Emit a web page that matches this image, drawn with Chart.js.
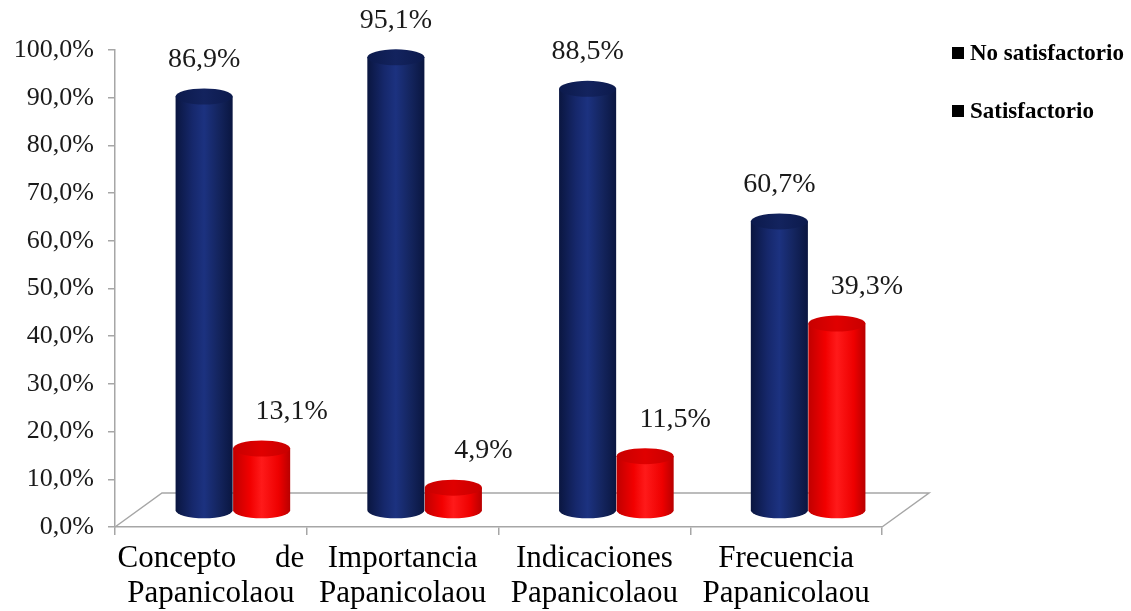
<!DOCTYPE html>
<html>
<head>
<meta charset="utf-8">
<script src="https://cdn.jsdelivr.net/npm/chart.js@4"></script>
<style>
  body { margin: 0; background: #fff; }
  #wrap { position: relative; width: 1131px; height: 611px; }
  .legend {
    position: absolute; left: 952px;
    font: bold 23px "Liberation Serif", "Times New Roman", serif; color: #000;
  }
  .legend span {
    display: inline-block; width: 12px; height: 12px; background: #000;
    margin-right: 6px; vertical-align: 1px;
  }
</style>
</head>
<body>
<div id="wrap">
  <canvas id="chart" width="1131" height="611"></canvas>
  <div class="legend" style="top:40px"><span></span>No satisfactorio</div>
  <div class="legend" style="top:98px"><span></span>Satisfactorio</div>
</div>
<script>
const categories = [
  ['Concepto     de', 'Papanicolaou'],
  ['Importancia', 'Papanicolaou'],
  ['Indicaciones', 'Papanicolaou'],
  ['Frecuencia', 'Papanicolaou'],
];
const noSatisfactorio = [86.9, 95.1, 88.5, 60.7];
const satisfactorio = [13.1, 4.9, 11.5, 39.3];
const yTicks = [0, 10, 20, 30, 40, 50, 60, 70, 80, 90, 100];

const SERIF = '"Liberation Serif", "Times New Roman", serif';
const DEPTH_X = 47, DEPTH_Y = -34;   // floor depth
const SHIFT_X = 22, SHIFT_Y = -16;   // bars stand mid-depth
const LABEL_DX = [0, 30];            // red labels sit right of their bar

const fmt = v => v.toFixed(1).replace('.', ',') + '%';

function cylinderGradient(ctx, x0, x1, stops) {
  const g = ctx.createLinearGradient(x0, 0, x1, 0);
  stops.forEach(([p, c]) => g.addColorStop(p, c));
  return g;
}

const palettes = [
  {
    body: [[0, '#0a1640'], [0.3, '#16286c'], [0.5, '#1c3280'], [0.75, '#14255f'], [1, '#0a1640']],
    top: [[0, '#0c1a4c'], [0.5, '#13235e'], [1, '#0c1a4c']],
  },
  {
    body: [[0, '#c00000'], [0.3, '#f20000'], [0.5, '#ff1a1a'], [0.8, '#ee0000'], [1, '#b80000']],
    top: [[0, '#c80000'], [0.5, '#e00000'], [1, '#c80000']],
  },
];

const floorPlugin = {
  id: 'floor',
  beforeDatasetsDraw(chart) {
    const { ctx, chartArea: a } = chart;
    ctx.save();
    ctx.strokeStyle = '#a6a6a6';
    ctx.lineWidth = 1.5;
    ctx.beginPath();
    ctx.moveTo(a.left, a.bottom);
    ctx.lineTo(a.left + DEPTH_X, a.bottom + DEPTH_Y);
    ctx.lineTo(a.right + DEPTH_X, a.bottom + DEPTH_Y);
    ctx.lineTo(a.right, a.bottom);
    ctx.stroke();
    ctx.restore();
  },
};

const cylinderPlugin = {
  id: 'cylinders',
  afterDatasetsDraw(chart) {
    const { ctx } = chart;
    const labels = [];
    ctx.save();
    chart.data.labels.forEach((_, i) => {
      chart.data.datasets.forEach((ds, d) => {
        const bar = chart.getDatasetMeta(d).data[i];
        const w = bar.width + 3;
        const cx = bar.x + SHIFT_X;
        const top = bar.y + SHIFT_Y;
        const bottom = bar.base + SHIFT_Y;
        const rx = w / 2, ry = 8;
        const pal = palettes[d];

        ctx.fillStyle = cylinderGradient(ctx, cx - rx, cx + rx, pal.body);
        ctx.beginPath();
        ctx.moveTo(cx - rx, top);
        ctx.lineTo(cx - rx, bottom);
        ctx.ellipse(cx, bottom, rx, ry, 0, Math.PI, 0, true);
        ctx.lineTo(cx + rx, top);
        ctx.closePath();
        ctx.fill();

        ctx.fillStyle = cylinderGradient(ctx, cx - rx, cx + rx, pal.top);
        ctx.beginPath();
        ctx.ellipse(cx, top, rx, ry, 0, 0, Math.PI * 2);
        ctx.fill();

        labels.push([fmt(ds.data[i]), cx + LABEL_DX[d], top - 37]);
      });
    });
    ctx.fillStyle = '#1a1a1a';
    ctx.font = '28px ' + SERIF;
    ctx.textAlign = 'center';
    ctx.textBaseline = 'middle';
    labels.forEach(([t, x, y]) => ctx.fillText(t, x, y));
    ctx.restore();
  },
};

new Chart(document.getElementById('chart'), {
  type: 'bar',
  data: {
    labels: categories,
    datasets: [
      { label: 'No satisfactorio', data: noSatisfactorio, backgroundColor: 'rgba(0,0,0,0)' },
      { label: 'Satisfactorio', data: satisfactorio, backgroundColor: 'rgba(0,0,0,0)' },
    ],
  },
  options: {
    responsive: false,
    animation: false,
    events: [],
    categoryPercentage: 0.6,
    barPercentage: 0.94,
    layout: { padding: { top: 50, right: 249, bottom: 0, left: 0 } },
    plugins: { legend: { display: false }, tooltip: { enabled: false } },
    scales: {
      x: {
        grid: { drawOnChartArea: false, tickLength: 8, color: '#a6a6a6', lineWidth: 1.5 },
        border: { color: '#a6a6a6', width: 1.5 },
        ticks: {
          color: '#000', padding: 6, maxRotation: 0, minRotation: 0, autoSkip: false,
          font: { family: SERIF, size: 31, lineHeight: 1.14 },
        },
        afterFit(scale) { scale.height = 84; },
      },
      y: {
        min: 0,
        max: 100,
        afterBuildTicks(scale) { scale.ticks = yTicks.map(v => ({ value: v })); },
        grid: { drawOnChartArea: false, tickLength: 7, color: '#a6a6a6', lineWidth: 1.5 },
        border: { color: '#a6a6a6', width: 1.5 },
        ticks: {
          color: '#1a1a1a', padding: 14,
          font: { family: SERIF, size: 26 },
          callback: v => fmt(v),
        },
        afterFit(scale) { scale.width = 115; },
      },
    },
  },
  plugins: [floorPlugin, cylinderPlugin],
});
</script>
</body>
</html>
